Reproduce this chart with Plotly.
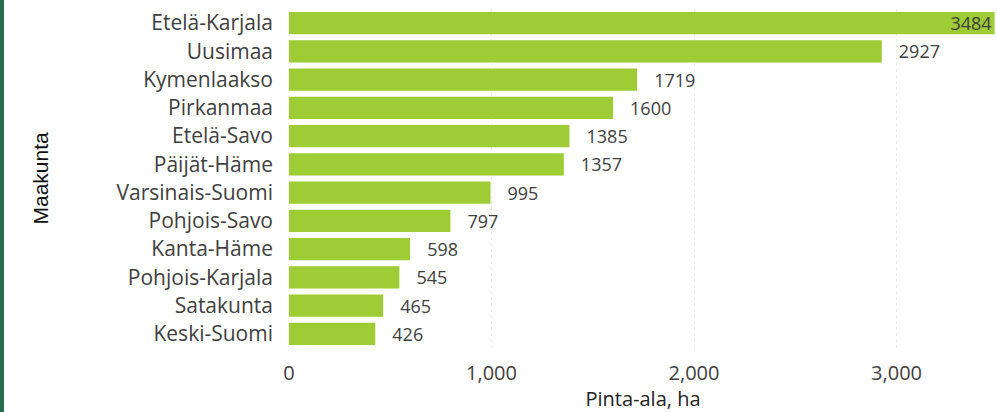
import plotly.graph_objects as go

# Regions ordered from largest to smallest area
regions = ["Etelä-Karjala", "Uusimaa", "Kymenlaakso", "Pirkanmaa", "Etelä-Savo",
           "Päijät-Häme", "Varsinais-Suomi", "Pohjois-Savo", "Kanta-Häme",
           "Pohjois-Karjala", "Satakunta", "Keski-Suomi"]
area_ha = [3484, 2927, 1719, 1600, 1385, 1357, 995, 797, 598, 545, 465, 426]
x_ticks = [0, 1000, 2000, 3000]
x_max = 3496

W, H = 997, 412
ML, MR, MT, MB = 289, 0, 9, 64

BAR = "#9dcc34"
TXT = "#404040"

# Labels that would run past the right edge sit inside the bar end
positions = ["inside" if v > 0.9 * x_max else "outside" for v in area_ha]

fig = go.Figure(go.Bar(
    x=area_ha,
    y=regions,
    orientation="h",
    marker=dict(color=BAR, line=dict(width=0)),
    texttemplate=["%{x:.0f}" if p == "inside" else "\u00a0\u00a0\u00a0%{x:.0f}" for p in positions],
    textposition=positions,
    insidetextanchor="end",
    constraintext="none",
    textfont=dict(family="Open Sans", size=18, color=TXT),
    insidetextfont=dict(family="Open Sans", size=18, color=TXT),
    outsidetextfont=dict(family="Open Sans", size=18, color=TXT),
    cliponaxis=False,
    hoverinfo="skip",
))

fig.update_layout(
    width=W, height=H,
    margin=dict(l=ML, r=MR, t=MT, b=MB, pad=0),
    paper_bgcolor="white",
    plot_bgcolor="white",
    bargap=0.22,
    showlegend=False,
    xaxis=dict(
        range=[0, x_max],
        tickvals=x_ticks,
        tickformat=",d",
        showgrid=True,
        gridcolor="#ebebeb",
        griddash="dot",
        gridwidth=1,
        zeroline=False,
        showline=False,
        ticks="",
        ticklabelstandoff=11,
        tickfont=dict(family="Open Sans", size=20, color=TXT),
        title=dict(text="Pinta-ala, ha",
                   font=dict(family="Open Sans", size=20, color="#222222"),
                   standoff=9),
    ),
    yaxis=dict(
        categoryorder="array",
        categoryarray=regions,
        autorange="reversed",
        showgrid=False,
        zeroline=False,
        showline=False,
        ticks="",
        ticklabelstandoff=15,
        tickfont=dict(family="Open Sans", size=21, color=TXT),
    ),
    annotations=[dict(
        text="Maakunta",
        xref="paper", yref="paper",
        x=(40 - ML) / (W - ML - MR), y=0.5,
        xanchor="center", yanchor="middle",
        textangle=-90,
        showarrow=False,
        font=dict(family="Liberation Sans Narrow, Arial Narrow, sans-serif", size=21, color="#111111"),
    )],
    shapes=[dict(
        type="rect", xref="paper", yref="paper",
        x0=(0 - ML) / (W - ML - MR), x1=(4 - ML) / (W - ML - MR),
        y0=-0.6, y1=1.6,
        fillcolor="#2b6a4a", line=dict(width=0),
    )],
)

fig.write_html("out.html")
